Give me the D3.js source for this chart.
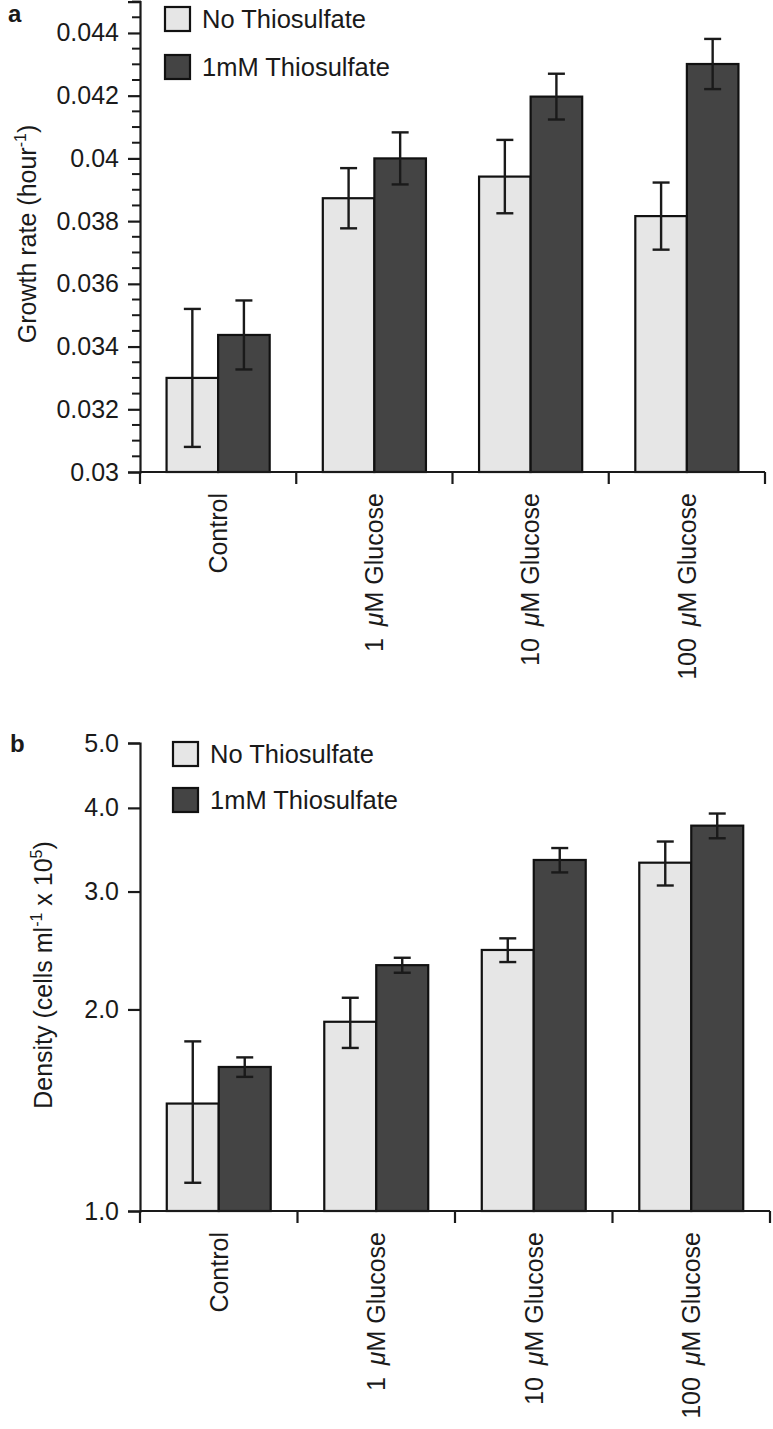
<!DOCTYPE html>
<html><head><meta charset="utf-8">
<script src="https://cdn.jsdelivr.net/npm/d3@7"></script>
<style>
body{margin:0;background:#fff}
svg{display:block}
text{font-family:"Liberation Sans",Arial,Helvetica,sans-serif;fill:#1a1a1a}
</style>
</head><body>
<svg id="c" width="773" height="1429"></svg>
<script>
// ---- data ----
const categories = ["Control", "1 μM Glucose", "10 μM Glucose", "100 μM Glucose"];
const catPrefix = ["", "1", "10", "100"];
const seriesNames = ["No Thiosulfate", "1mM Thiosulfate"];
const seriesColors = ["#e6e6e6", "#444444"];

const growthNoThio    = [0.03300, 0.03873, 0.03942, 0.03816];
const growthNoThioErr = [0.00220, 0.00096, 0.00117, 0.00107];
const growthThio      = [0.03437, 0.04000, 0.04197, 0.04301];
const growthThioErr   = [0.00110, 0.00083, 0.00073, 0.00080];

const densityNoThio    = [1.447, 1.917, 2.454, 3.313];
const densityNoThioErr = [0.345, 0.165, 0.100, 0.250];
const densityThio      = [1.641, 2.329, 3.344, 3.763];
const densityThioErr   = [0.055, 0.060, 0.140, 0.160];

const growthTicks = [0.03, 0.032, 0.034, 0.036, 0.038, 0.04, 0.042, 0.044];
const growthTickLabels = ["0.03", "0.032", "0.034", "0.036", "0.038", "0.04", "0.042", "0.044"];
const densityTicks = [1, 2, 3, 4, 5];
const densityTickLabels = ["1.0", "2.0", "3.0", "4.0", "5.0"];

const svg = d3.select("#c");

function drawPanel(opt) {
  const g = svg.append("g");
  const y = opt.y;
  const x0 = d3.scaleBand().domain(categories).range([opt.left, opt.right]).padding(0);
  const bw = x0.bandwidth();
  const pad = bw * 0.17;
  const x1 = d3.scaleBand().domain(seriesNames).range([pad, bw - pad]).padding(0);
  const yBase = y.range()[0];

  // bars
  const rows = [];
  categories.forEach((c, i) => {
    opt.values.forEach((vals, s) => {
      rows.push({cat: c, s: s, v: vals[i], e: opt.errs[s][i]});
    });
  });
  g.selectAll("rect.bar").data(rows).enter().append("rect")
    .attr("x", d => x0(d.cat) + x1(seriesNames[d.s]))
    .attr("y", d => y(d.v))
    .attr("width", x1.bandwidth())
    .attr("height", d => yBase - y(d.v))
    .attr("fill", d => seriesColors[d.s])
    .attr("stroke", "#111").attr("stroke-width", 2.2);

  // error bars
  const eg = g.selectAll("g.err").data(rows).enter().append("g")
    .attr("stroke", "#1a1a1a").attr("stroke-width", 2.4);
  const cx = d => x0(d.cat) + x1(seriesNames[d.s]) + x1.bandwidth() / 2;
  eg.append("line").attr("x1", cx).attr("x2", cx)
    .attr("y1", d => y(d.v + d.e)).attr("y2", d => y(d.v - d.e));
  eg.append("line").attr("x1", d => cx(d) - 8.5).attr("x2", d => cx(d) + 8.5)
    .attr("y1", d => y(d.v + d.e)).attr("y2", d => y(d.v + d.e));
  eg.append("line").attr("x1", d => cx(d) - 8.5).attr("x2", d => cx(d) + 8.5)
    .attr("y1", d => y(d.v - d.e)).attr("y2", d => y(d.v - d.e));

  // y axis
  const ya = d3.axisLeft(y).tickValues(opt.ticks).tickSize(12).tickPadding(9)
    .tickFormat((d, i) => opt.tickLabels[i]);
  const yg = g.append("g").attr("transform", `translate(${opt.left},0)`).call(ya);
  yg.select(".domain").attr("stroke", "#1a1a1a").attr("stroke-width", 2.2);
  yg.selectAll(".tick line").attr("stroke", "#1a1a1a").attr("stroke-width", 2.2);
  yg.selectAll(".tick text").attr("font-size", 25).attr("fill", "#1a1a1a")
    .attr("font-family", "'Liberation Sans',Arial,sans-serif");
  if (opt.minor) {
    g.append("g").selectAll("line").data(opt.minor).enter().append("line")
      .attr("x1", opt.left - 8).attr("x2", opt.left + 1)
      .attr("y1", d => y(d)).attr("y2", d => y(d))
      .attr("stroke", "#1a1a1a").attr("stroke-width", 2);
  }

  // x axis
  const xg = g.append("g");
  xg.append("line").attr("x1", opt.left).attr("x2", opt.right)
    .attr("y1", yBase).attr("y2", yBase).attr("stroke", "#1a1a1a").attr("stroke-width", 2.2);
  const bounds = categories.map(c => x0(c)).concat([opt.right]);
  xg.selectAll("line.t").data(bounds).enter().append("line")
    .attr("x1", d => d).attr("x2", d => d).attr("y1", yBase).attr("y2", yBase + 12)
    .attr("stroke", "#1a1a1a").attr("stroke-width", 2.2);
  categories.forEach((c, i) => {
    const t = xg.append("text")
      .attr("transform", `translate(${x0(c) + bw / 2},${yBase + 21}) rotate(-90)`)
      .attr("text-anchor", "end").attr("dy", "0.35em").attr("font-size", 25);
    if (i === 0) { t.text(c); }
    else {
      t.append("tspan").text(catPrefix[i] + " ");
      t.append("tspan").attr("font-style", "italic").attr("dx", 5).text("μ");
      t.append("tspan").text("M Glucose");
    }
  });

  // y title
  const tt = g.append("text")
    .attr("transform", `translate(${opt.titleX},${opt.titleY}) rotate(-90)`)
    .attr("text-anchor", "middle").attr("font-size", 25);
  opt.title(tt);

  // legend
  seriesNames.forEach((s, i) => {
    const ly = opt.legendY + i * opt.legendGap;
    g.append("rect").attr("x", opt.legendX).attr("y", ly).attr("width", 25).attr("height", 24)
      .attr("fill", seriesColors[i]).attr("stroke", "#111").attr("stroke-width", 2.2);
    g.append("text").attr("x", opt.legendX + 37).attr("y", ly + 21).attr("font-size", 25.5).text(s);
  });

  // panel letter
  g.append("text").attr("x", opt.letterX).attr("y", opt.letterY)
    .attr("font-size", 24).attr("font-weight", "bold").attr("fill", "#000").text(opt.letter);
}

// panel a
const yA = d3.scaleLinear().domain([0.03, 0.045]).range([472, 1.6]);
const minorA = d3.range(0.0305, 0.04501, 0.0005).filter(v => Math.abs(Math.round(v / 0.002) * 0.002 - v) > 1e-7);
drawPanel({
  y: yA, left: 140, right: 765,
  values: [growthNoThio, growthThio], errs: [growthNoThioErr, growthThioErr],
  ticks: growthTicks, tickLabels: growthTickLabels, minor: minorA,
  titleX: 36, titleY: 234,
  title: t => {
    t.append("tspan").text("Growth rate (hour");
    t.append("tspan").attr("font-size", 16).attr("dy", -10).text("-1");
    t.append("tspan").attr("dy", 10).text(")");
  },
  legendX: 165, legendY: 7, legendGap: 48,
  letter: "a", letterX: 8, letterY: 22
});

// panel b
const yB = d3.scaleLog().domain([1, 5]).range([1211, 743]);
drawPanel({
  y: yB, left: 140, right: 770,
  values: [densityNoThio, densityThio], errs: [densityNoThioErr, densityThioErr],
  ticks: densityTicks, tickLabels: densityTickLabels, minor: null,
  titleX: 52, titleY: 975,
  title: t => {
    t.append("tspan").text("Density (cells ml");
    t.append("tspan").attr("font-size", 16).attr("dy", -10).text("-1");
    t.append("tspan").attr("dy", 10).text(" x 10");
    t.append("tspan").attr("font-size", 16).attr("dy", -10).text("5");
    t.append("tspan").attr("dy", 10).text(")");
  },
  legendX: 173, legendY: 742, legendGap: 46,
  letter: "b", letterX: 10, letterY: 752
});
</script>
</body></html>
